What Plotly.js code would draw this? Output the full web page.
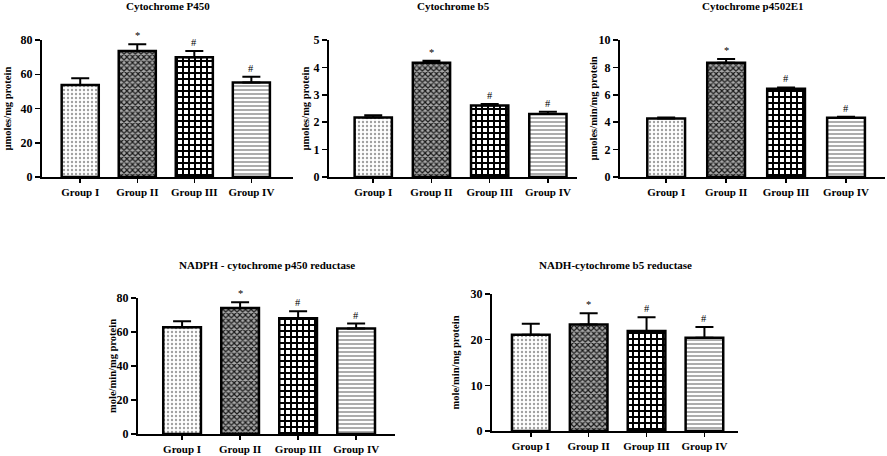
<!DOCTYPE html>
<html>
<head>
<meta charset="utf-8">
<script src="https://cdn.plot.ly/plotly-3.0.1.min.js"></script>
<style>html,body{margin:0;padding:0;background:#fff;}#chart{width:887px;height:456px;}</style>
</head>
<body>
<div id="chart"></div>
<script>
const groups = ['Group I', 'Group II', 'Group III', 'Group IV'];

const p450Mean = [53.7, 73.6, 69.9, 55.2];
const p450Err = [3.9, 3.9, 3.7, 3.3];

const b5Mean = [2.17, 4.17, 2.61, 2.30];
const b5Err = [0.08, 0.07, 0.05, 0.08];

const e1Mean = [4.27, 8.34, 6.44, 4.32];
const e1Err = [0.08, 0.27, 0.10, 0.08];

const nadphMean = [62.8, 74.1, 68.1, 62.0];
const nadphErr = [3.5, 3.4, 4.1, 3.0];

const nadhMean = [21.1, 23.3, 21.9, 20.4];
const nadhErr = [2.4, 2.5, 3.0, 2.4];

const marks = ['', '*', '#', '#'];

const titles = ['Cytochrome P450', 'Cytochrome b5', 'Cytochrome p4502E1',
  'NADPH - cytochrome p450 reductase', 'NADH-cytochrome b5 reductase'];
const yTitles = ['µmoles/mg protein', 'µmoles/mg protein', 'µmoles/min/mg protein',
  'mole/min/mg protein', 'mole/min/mg protein'];

const W = 887, H = 456;
const FONT = 'Liberation Serif, Times New Roman, serif';

// panel geometry in pixels: [xLeft, xRight, yTop, yBottom]
const panels = [
  {px: [42, 293, 40, 177], xr: [-0.67, 3.73], yr: [0, 80], dt: 20, bw: 0.65, ty: 6, yl: 7},
  {px: [329, 577, 40, 177], xr: [-0.76, 3.5], yr: [0, 5], dt: 1, bw: 0.64, ty: 6, yl: 305},
  {px: [620, 885, 40, 177], xr: [-0.77, 3.65], yr: [0, 10], dt: 2, bw: 0.63, ty: 6, yl: 593},
  {px: [138, 395, 298, 434], xr: [-0.76, 3.67], yr: [0, 80], dt: 20, bw: 0.65, ty: 265, yl: 112},
  {px: [492, 738, 294, 431], xr: [-0.67, 3.58], yr: [0, 30], dt: 10, bw: 0.65, ty: 265, yl: 455}
];
const means = [p450Mean, b5Mean, e1Mean, nadphMean, nadhMean];
const errs = [p450Err, b5Err, e1Err, nadphErr, nadhErr];

const pattern = {
  fillmode: 'replace',
  shape: ['.', 'x', '+', '-'],
  fgcolor: ['#a0a0a0', '#1a1a1a', '#000000', '#8a8a8a'],
  bgcolor: ['#ffffff', '#a8a8a8', '#ffffff', '#ffffff'],
  size: [4, 4, 6, 4],
  solidity: [0.28, 0.5, 0.55, 0.35]
};

const data = [];
const layout = {
  width: W, height: H,
  margin: {l: 0, r: 0, t: 0, b: 0},
  paper_bgcolor: '#fff', plot_bgcolor: '#fff',
  showlegend: false,
  annotations: []
};

panels.forEach((p, i) => {
  const n = i + 1;
  const xa = 'x' + (n === 1 ? '' : n), ya = 'y' + (n === 1 ? '' : n);
  data.push({
    type: 'bar', x: groups, y: means[i], xaxis: xa, yaxis: ya,
    width: p.bw,
    marker: {color: '#fff', line: {color: '#000', width: 2.5}, pattern: pattern},
    error_y: {type: 'data', symmetric: false, array: errs[i], arrayminus: errs[i].map(() => 0),
      color: '#000', thickness: 2, width: 9},
    hoverinfo: 'skip'
  });
  layout['xaxis' + (n === 1 ? '' : n)] = {
    domain: [p.px[0] / W, p.px[1] / W], anchor: ya, type: 'category', range: p.xr,
    showline: true, linewidth: 2, linecolor: '#000', ticks: 'outside', ticklen: 4,
    tickwidth: 1.5, tickcolor: '#000', showgrid: false, zeroline: false, fixedrange: true,
    tickfont: {family: FONT, size: 11, color: '#000', weight: 'bold'}
  };
  layout['yaxis' + (n === 1 ? '' : n)] = {
    domain: [1 - p.px[3] / H, 1 - p.px[2] / H], anchor: xa, range: p.yr, dtick: p.dt,
    showline: true, linewidth: 2, linecolor: '#000', ticks: 'outside', ticklen: 5,
    tickwidth: 1.5, tickcolor: '#000', showgrid: false, zeroline: false, fixedrange: true,
    tickfont: {family: FONT, size: 12, color: '#000', weight: 'bold'}
  };
  layout.annotations.push({
    xref: 'paper', yref: 'paper', x: (p.px[0] + p.px[1]) / 2 / W, y: 1 - p.ty / H,
    xanchor: 'center', yanchor: 'middle', showarrow: false, text: '<b>' + titles[i] + '</b>',
    font: {family: FONT, size: 11, color: '#000'}
  });
  layout.annotations.push({
    xref: 'paper', yref: 'paper', x: p.yl / W, y: 1 - (p.px[2] + p.px[3]) / 2 / H,
    xanchor: 'center', yanchor: 'middle', showarrow: false, textangle: -90,
    text: '<b>' + yTitles[i] + '</b>',
    font: {family: FONT, size: 10.5, color: '#000'}
  });
  groups.forEach((g, k) => {
    if (!marks[k]) return;
    layout.annotations.push({
      xref: xa, yref: ya, x: g, y: means[i][k] + errs[i][k], yshift: 1,
      xanchor: 'center', yanchor: 'bottom', showarrow: false, text: marks[k],
      font: {family: FONT, size: 10.5, color: '#000'}
    });
  });
});

Plotly.newPlot('chart', data, layout, {staticPlot: true, displayModeBar: false});
</script>
</body>
</html>
